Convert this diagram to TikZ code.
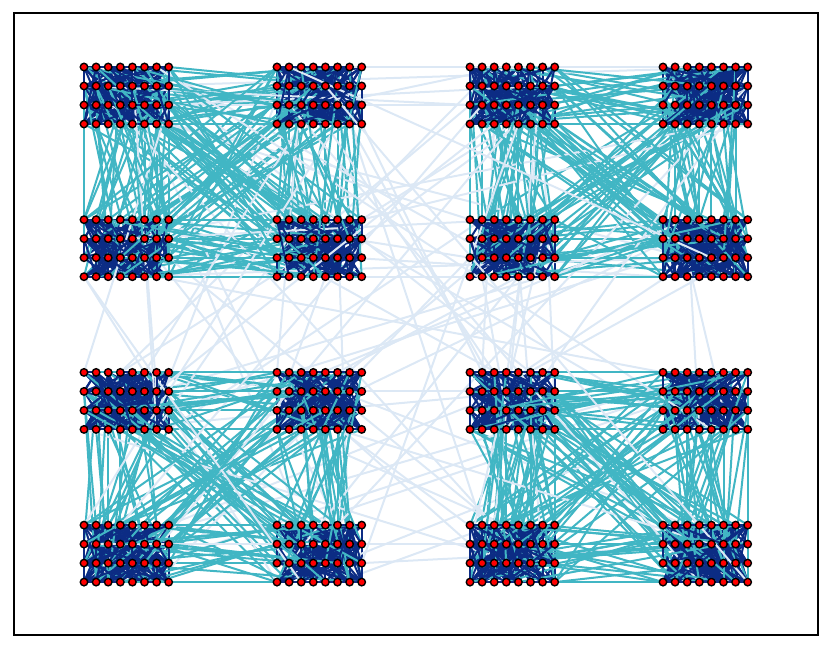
\documentclass[tikz,border=0pt]{standalone}
\pgfdeclarelayer{bg}
\pgfsetlayers{bg,main}
\definecolor{dkblue}{HTML}{0C2C84}
\definecolor{tealc}{HTML}{41B6C4}
\definecolor{ltblue}{HTML}{DCE8F5}
\tikzset{
 vtx/.style={circle, fill=red, draw=black, line width=1.4pt, inner sep=0pt, minimum size=7.5pt},
 ein/.style={dkblue, line width=2pt},
 emid/.style={tealc, line width=2pt},
 eout/.style={ltblue, line width=2pt},
 frame/.style={draw=black, line width=1.6pt}
}
\begin{document}
\begin{tikzpicture}[x=1pt,y=-1pt]
\useasboundingbox (0,0) rectangle (830,649);
\draw[frame] (14,13) rectangle (818,635);
\foreach \i in {0,...,511}{
  \pgfmathtruncatemacro{\qq}{div(\i,128)}
  \pgfmathtruncatemacro{\bk}{div(mod(\i,128),32)}
  \pgfmathtruncatemacro{\kk}{mod(\i,32)}
  \pgfmathsetmacro{\px}{84+193*(2*mod(\qq,2)+mod(\bk,2))+12.1*mod(\kk,8)}
  \pgfmathsetmacro{\py}{67+152.7*(2*div(\qq,2)+div(\bk,2))+19*div(\kk,8)}
  \node[vtx] (n\i) at (\px,\py) {};
}
\pgfmathsetseed{5}
\begin{pgfonlayer}{bg}
\foreach \j in {1,...,3850}{
  \pgfmathrandominteger{\aa}{0}{511}
  \pgfmathrandominteger{\lv}{1}{1000}
  \ifnum\lv<829
     \pgfmathrandominteger{\rr}{0}{31}
     \pgfmathtruncatemacro{\bb}{32*div(\aa,32)+\rr}
     \draw[ein] (n\aa.center) -- (n\bb.center);
  \else\ifnum\lv<972
     \pgfmathrandominteger{\sh}{1}{3}
     \pgfmathrandominteger{\rr}{0}{31}
     \pgfmathtruncatemacro{\bb}{128*div(\aa,128)+32*mod(div(mod(\aa,128),32)+\sh,4)+\rr}
     \draw[emid] (n\aa.center) -- (n\bb.center);
  \else
     \pgfmathrandominteger{\sh}{1}{3}
     \pgfmathrandominteger{\rr}{0}{127}
     \pgfmathtruncatemacro{\bb}{128*mod(div(\aa,128)+\sh,4)+\rr}
     \draw[eout] (n\aa.center) -- (n\bb.center);
  \fi\fi
}
\end{pgfonlayer}
\end{tikzpicture}
\end{document}
